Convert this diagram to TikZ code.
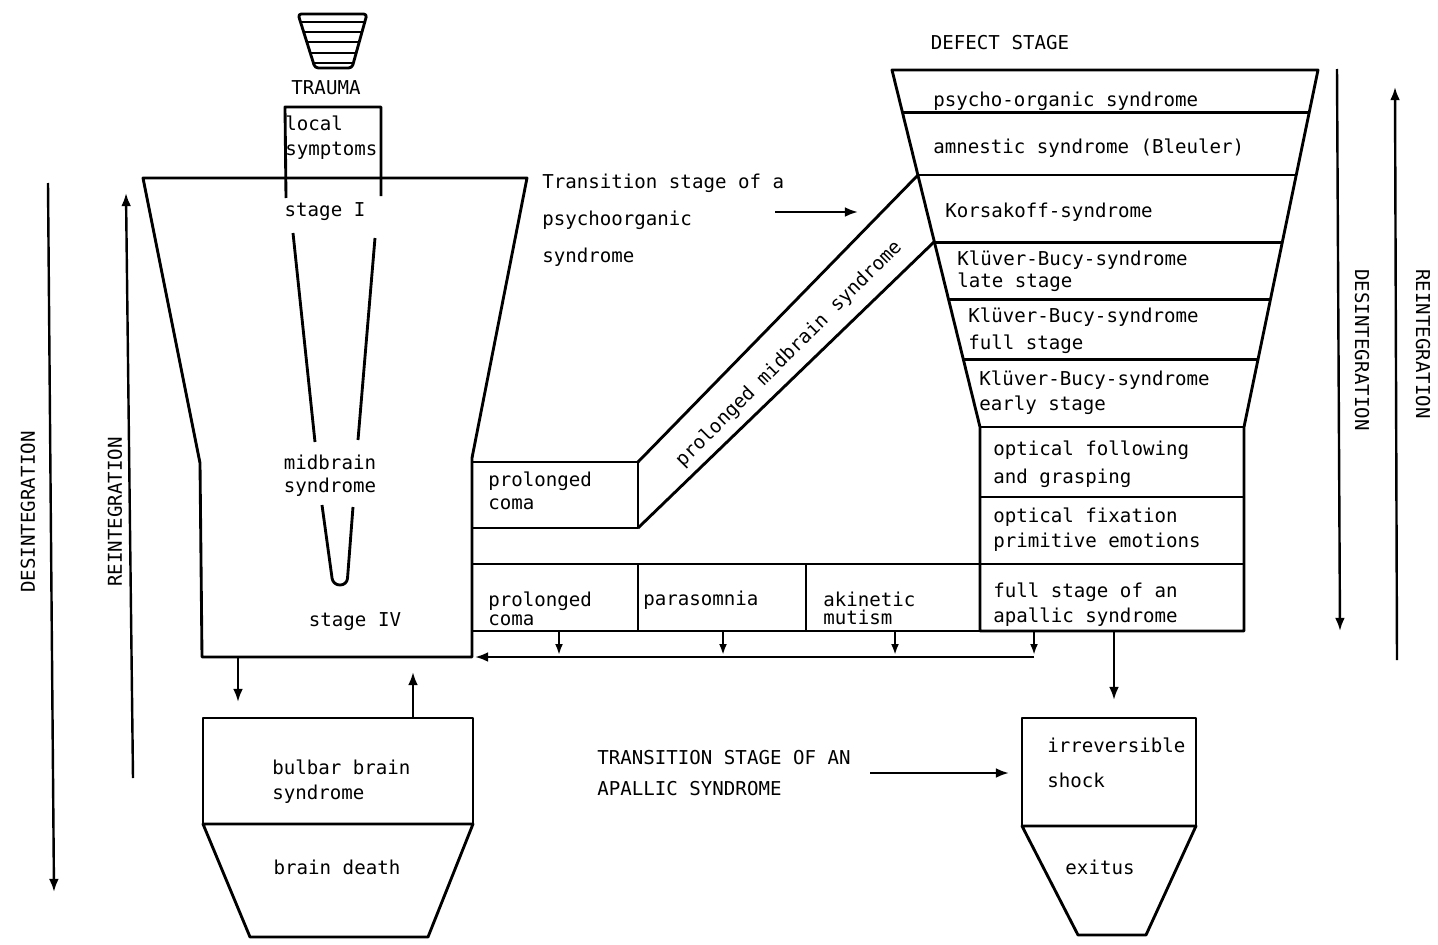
\documentclass[tikz,border=0pt]{standalone}
\usepackage{fontspec}
\setmonofont{DejaVu Sans Mono}
\usepackage{tikz}
\usetikzlibrary{arrows.meta,calc}

\tikzset{
  testo/.style={font=\ttfamily\fontsize{8.7}{#1}\selectfont, inner sep=0pt, align=left},
  testo/.default=11.4pt,
  bordo/.style={line width=1.3pt, line join=round},
  freccia/.style={line width=1.1pt, -{Latex[length=6pt,width=4.5pt]}},
}

\begin{document}
\begin{tikzpicture}[x=0.16mm, y=-0.16mm]
    \useasboundingbox (0,0) rectangle (1438,945);

    % Disegna il simbolo del trauma
    \coordinate (ta) at (298,14); \coordinate (tb) at (367,14);
    \coordinate (tc) at (352,68); \coordinate (td) at (315,68);
    \draw[bordo, rounded corners=1.5pt] (ta) -- (tb) -- (tc) -- (td) -- cycle;
    \foreach \f in {0.15,0.33,0.52,0.72,0.91}
        \draw[line width=1.1pt] ($(ta)!\f!(td)$) -- ($(tb)!\f!(tc)$);
    \node[testo] (trauma) at (326,88) {TRAUMA};

    % Disegna i sintomi locali
    \draw[bordo] (286,198) -- (285,107) -- (381,107) -- (381,196);
    \node[testo, anchor=west] (locali) at (285,138) {local\\symptoms};

    % Disegna l'imbuto principale
    \draw[bordo] (143,178) -- (527,178) -- (472,458) -- (472,657) -- (202,657) -- (200,463) -- cycle;
    \draw[bordo] (293,233) -- (315,442);
    \draw[bordo] (375,238) -- (358,440);
    \draw[bordo, rounded corners=3pt] (322,505) -- (333,585) -- (347,585) -- (353,507);
    \node[testo] (stadioI) at (325,212) {stage I};
    \node[testo=10.5pt, align=center] (mesencefalo) at (330,476) {midbrain\\syndrome};
    \node[testo] (stadioIV) at (355,622) {stage IV};

    % Disegna il coma prolungato e la fascia obliqua
    \draw[bordo] (472,462) -- (638,462) -- (638,528) -- (472,528);
    \draw[bordo] (638,462) -- (918,175);
    \draw[bordo] (638,528) -- (934,242);
    \node[testo=10.5pt, anchor=west] (coma) at (488,491) {prolonged\\coma};
    \node[testo, rotate=45] (mesprol) at (789,354) {prolonged midbrain syndrome};

    % Disegna la fila inferiore
    \draw[bordo] (472,564) rectangle (1244,631);
    \foreach \x in {638,806,980}
        \draw[bordo] (\x,564) -- (\x,631);
    \node[testo=8.4pt, anchor=west] (comabis) at (488,609) {prolonged\\coma};
    \node[testo, anchor=west] (parasonnia) at (643,600) {parasomnia};
    \node[testo=8.2pt, anchor=west] (acinetico) at (823,608) {akinetic\\mutism};

    % Disegna l'imbuto destro
    \coordinate (da) at (892,70); \coordinate (db) at (1318,70);
    \coordinate (dc) at (1244,427); \coordinate (dd) at (980,427);
    \draw[bordo] (da) -- (db) -- (dc) -- (1244,631) -- (980,631) -- (dd) -- cycle;
    \foreach \f in {0.12,0.294,0.482,0.644,0.812}
        \draw[bordo] ($(da)!\f!(dd)$) -- ($(db)!\f!(dc)$);
    \draw[bordo] (dd) -- (dc);
    \draw[bordo] (980,497) -- (1244,497);
    \node[testo] (difetto) at (1000,43) {DEFECT STAGE};
    \node[testo, anchor=west] (psico) at (933,101) {psycho-organic syndrome};
    \node[testo, anchor=west] (amnesia) at (933,148) {amnestic syndrome (Bleuler)};
    \node[testo, anchor=west] (korsakoff) at (945,212) {Korsakoff-syndrome};
    \node[testo=10pt, anchor=west] (kbtardo) at (957,271) {Klüver-Bucy-syndrome\\late stage};
    \node[testo=12.3pt, anchor=west] (kbpieno) at (968,331) {Klüver-Bucy-syndrome\\full stage};
    \node[testo, anchor=west] (kbprecoce) at (979,393) {Klüver-Bucy-syndrome\\early stage};
    \node[testo=12.7pt, anchor=west] (seguire) at (993,464) {optical following\\and grasping};
    \node[testo, anchor=west] (fissare) at (993,530) {optical fixation\\primitive emotions};
    \node[testo, anchor=west] (apallico) at (993,605) {full stage of an\\apallic syndrome};

    % Stadio di transizione psicoorganico
    \node[testo=16.8pt, anchor=west] (transizione) at (542,220) {Transition stage of a\\psychoorganic\\syndrome};
    \coordinate (tr1) at (775,212); \coordinate (tr2) at (858,212);
    \draw[freccia] (tr1) -- (tr2);

    % Frecce verso la linea di ritorno
    \foreach \x in {559,723,895,1034} {
        \coordinate (su\x) at (\x,631); \coordinate (giu\x) at (\x,655);
        \draw[line width=1pt, -{Latex[length=5pt,width=3.6pt]}] (su\x) -- (giu\x);
    }
    \coordinate (ri1) at (1034,657); \coordinate (ri2) at (475,657);
    \draw[freccia] (ri1) -- (ri2);

    % Sindrome bulbare e morte cerebrale
    \draw[bordo] (203,718) rectangle (473,824);
    \draw[bordo] (203,824) -- (473,824) -- (428,937) -- (250,937) -- cycle;
    \node[testo, anchor=west] (bulbare) at (272,782) {bulbar brain\\syndrome};
    \node[testo] (morte) at (337,867) {brain death};
    \coordinate (fa) at (238,657); \coordinate (fb) at (238,702);
    \draw[freccia] (fa) -- (fb);
    \coordinate (fc) at (413,718); \coordinate (fd) at (413,672);
    \draw[freccia] (fc) -- (fd);

    % Shock irreversibile ed exitus
    \draw[bordo] (1022,718) rectangle (1196,826);
    \draw[bordo] (1022,826) -- (1196,826) -- (1146,935) -- (1078,935) -- cycle;
    \node[testo=15.9pt, anchor=west] (shock) at (1047,763) {irreversible\\shock};
    \node[testo] (exitus) at (1100,867) {exitus};
    \coordinate (ap1) at (1114,631); \coordinate (ap2) at (1114,700);
    \draw[freccia] (ap1) -- (ap2);

    % Stadio di transizione apallico
    \node[testo=14.1pt, anchor=west] (apallica) at (597,773) {TRANSITION STAGE OF AN\\APALLIC SYNDROME};
    \coordinate (tp1) at (870,773); \coordinate (tp2) at (1009,773);
    \draw[freccia] (tp1) -- (tp2);

    % Frecce di desintegrazione e reintegrazione
    \coordinate (dsa) at (48,183); \coordinate (dsb) at (54,892);
    \draw[freccia] (dsa) -- (dsb);
    \coordinate (rsa) at (133,778); \coordinate (rsb) at (126,193);
    \draw[freccia] (rsa) -- (rsb);
    \node[testo, rotate=90] (desin) at (28,512) {DESINTEGRATION};
    \node[testo, rotate=90] (reins) at (115,512) {REINTEGRATION};
    \coordinate (dda) at (1337,69); \coordinate (ddb) at (1340,631);
    \draw[freccia] (dda) -- (ddb);
    \coordinate (rda) at (1397,660); \coordinate (rdb) at (1395,87);
    \draw[freccia] (rda) -- (rdb);
    \node[testo, rotate=-90] (desdx) at (1362,350) {DESINTEGRATION};
    \node[testo, rotate=-90] (reidx) at (1423,344) {REINTEGRATION};
\end{tikzpicture}
\end{document}
